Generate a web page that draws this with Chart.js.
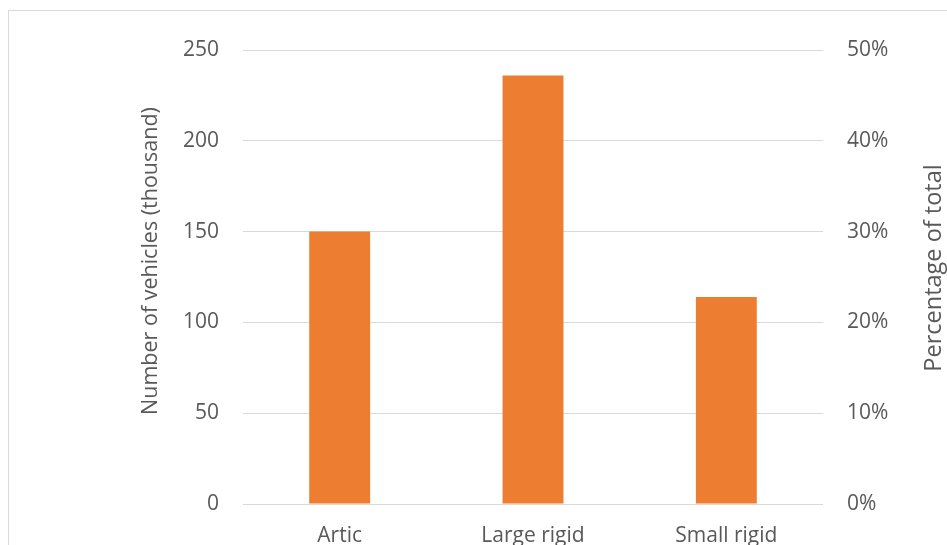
<!DOCTYPE html>
<html>
<head>
  <title>Vehicles by type</title>
  <script src="https://cdn.jsdelivr.net/npm/chart.js"></script>
  <style>
    body { margin: 0; width: 947px; height: 545px; overflow: hidden; background: #fff; position: relative; }
    .frame { position: absolute; left: 8px; top: 10px; width: 1000px; height: 1000px; border: 1px solid #d9d9d9; }
    .wrap { position: absolute; left: 0; top: 0; width: 960px; height: 580px; }
  </style>
</head>
<body>
  <div class="frame"></div>
  <div class="wrap"><canvas id="chart"></canvas></div>
  <script>
    const categories = ['Artic', 'Large rigid', 'Small rigid'];
    const vehicles = [150, 236, 114];
    const leftTicks = [0, 50, 100, 150, 200, 250];
    const rightTicks = [0, 10, 20, 30, 40, 50];
    const leftTitle = 'Number of vehicles (thousand)';
    const rightTitle = 'Percentage of total';

    const family = '"Open Sans", sans-serif';
    const font = { family, size: 21 };
    const grey = '#595959';

    // both axis titles read bottom-to-top, as in Excel
    const axisTitles = {
      id: 'axisTitles',
      afterDraw(chart) {
        const ctx = chart.ctx;
        const draw = (text, x, y, size) => {
          ctx.save();
          ctx.translate(x, y);
          ctx.rotate(-Math.PI / 2);
          ctx.font = size + 'px ' + family;
          ctx.fillStyle = grey;
          ctx.textAlign = 'center';
          ctx.textBaseline = 'middle';
          ctx.fillText(text, 0, 0);
          ctx.restore();
        };
        draw(leftTitle, 151, 261, 21.5);
        draw(rightTitle, 934, 268, 23.5);
      }
    };

    new Chart(document.getElementById('chart'), {
      type: 'bar',
      data: {
        labels: categories,
        datasets: [{
          data: vehicles,
          backgroundColor: '#ED7D31',
          categoryPercentage: 1,
          barPercentage: 0.315,
          yAxisID: 'y'
        }]
      },
      options: {
        responsive: true,
        maintainAspectRatio: false,
        animation: false,
        layout: { padding: { top: 50, left: 0, right: 0, bottom: 0 } },
        plugins: { legend: { display: false }, tooltip: { enabled: false } },
        scales: {
          x: {
            grid: { display: false, drawTicks: false },
            border: { display: false },
            ticks: { color: grey, font, padding: 19 },
            afterFit: s => { s.height = 76; }
          },
          y: {
            position: 'left',
            min: leftTicks[0],
            max: leftTicks[leftTicks.length - 1],
            grid: { color: '#d9d9d9', drawTicks: false },
            border: { display: false },
            ticks: { stepSize: 50, color: grey, font, padding: 24 },
            afterFit: s => { s.width = 243; }
          },
          y2: {
            position: 'right',
            min: rightTicks[0],
            max: rightTicks[rightTicks.length - 1],
            grid: { display: false, drawTicks: false },
            border: { display: false },
            ticks: { stepSize: 10, color: grey, font, padding: 24, callback: v => v + '%' },
            afterFit: s => { s.width = 137; }
          }
        }
      },
      plugins: [axisTitles]
    });
  </script>
</body>
</html>
